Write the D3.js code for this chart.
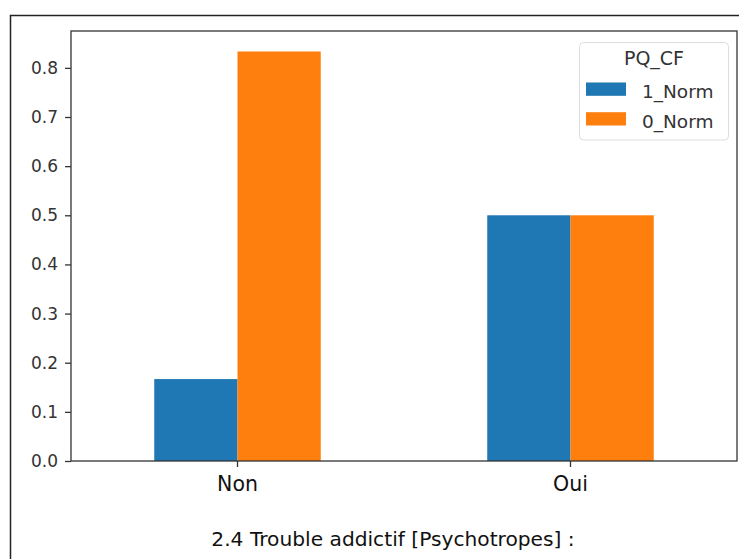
<!DOCTYPE html>
<html><head><meta charset="utf-8">
<script src="https://cdn.jsdelivr.net/npm/d3@7"></script>
<style>body{margin:0;background:#fff}svg{display:block}</style>
</head><body><svg id="c" width="739" height="559"></svg>
<script>
const categories = ["Non", "Oui"];
const seriesNames = ["1_Norm", "0_Norm"];
const series1 = [0.1667, 0.5];
const series0 = [0.8333, 0.5];
const yTicks = [0.0, 0.1, 0.2, 0.3, 0.4, 0.5, 0.6, 0.7, 0.8];
const colors = ["#1f77b4", "#ff7f0e"];
const legendTitle = "PQ_CF";
const title = "2.4 Trouble addictif [Psychotropes] :";

const svg = d3.select("#c");
const L = 71, R = 737, T = 31, B = 461;
const font = "'DejaVu Sans', sans-serif";

// outer frame
svg.append("path").attr("d", `M10.5,559 L10.5,15.5 L739,15.5`).attr("fill","none").attr("stroke","#222").attr("stroke-width",1.5);

const x = d3.scaleBand().domain(categories).range([L, R]).paddingInner(0.5).paddingOuter(0.25);
const xs = d3.scaleBand().domain(seriesNames).range([0, x.bandwidth()]);
const y = d3.scaleLinear().domain([0, 0.875]).range([B, T]);

const data = categories.map((c, i) => ({c, vals: [series1[i], series0[i]]}));
const g = svg.append("g");
data.forEach(d => {
  d.vals.forEach((v, j) => {
    g.append("rect").attr("x", x(d.c) + xs(seriesNames[j])).attr("y", y(v))
      .attr("width", xs.bandwidth()).attr("height", y(0) - y(v)).attr("fill", colors[j]);
  });
});

// spines
svg.append("rect").attr("x", L).attr("y", T).attr("width", R - L).attr("height", B - T)
  .attr("fill","none").attr("stroke","#333").attr("stroke-width",1.3);

const yAxis = svg.append("g").attr("transform", `translate(${L},0)`)
  .call(d3.axisLeft(y).tickValues(yTicks).tickFormat(d3.format(".1f")).tickSize(6).tickPadding(7));
yAxis.select(".domain").remove();
yAxis.selectAll("line").attr("stroke","#333").attr("stroke-width",1.3);
yAxis.selectAll("text").attr("font-family", font).attr("font-size", 17).attr("fill","#333");

const xAxis = svg.append("g").attr("transform", `translate(0,${B})`)
  .call(d3.axisBottom(x).tickSize(6).tickPadding(9));
xAxis.select(".domain").remove();
xAxis.selectAll("line").attr("stroke","#333").attr("stroke-width",1.3);
xAxis.selectAll("text").attr("font-family", font).attr("font-size", 20.5).attr("fill","#111");

svg.append("text").attr("x", 393).attr("y", 546).attr("text-anchor","middle")
  .attr("font-family", font).attr("font-size", 20.2).attr("fill","#111").text(title);

// legend
const lg = svg.append("g");
lg.append("rect").attr("x", 579.5).attr("y", 42.5).attr("width", 149).attr("height", 97.5).attr("rx", 4)
  .attr("fill","#fff").attr("fill-opacity",0.8).attr("stroke","#ddd").attr("stroke-width",1);
lg.append("text").attr("x", 654).attr("y", 65).attr("text-anchor","middle")
  .attr("font-family", font).attr("font-size", 19).attr("fill","#333").text(legendTitle);
seriesNames.forEach((s, j) => {
  const yy = 82.5 + j * 29.7;
  lg.append("rect").attr("x", 586).attr("y", yy).attr("width", 40).attr("height", 13.3).attr("fill", colors[j]);
  lg.append("text").attr("x", 642).attr("y", yy + 15.5).attr("font-family", font).attr("font-size", 18.5)
    .attr("fill","#333").text(s);
});
</script></body></html>
